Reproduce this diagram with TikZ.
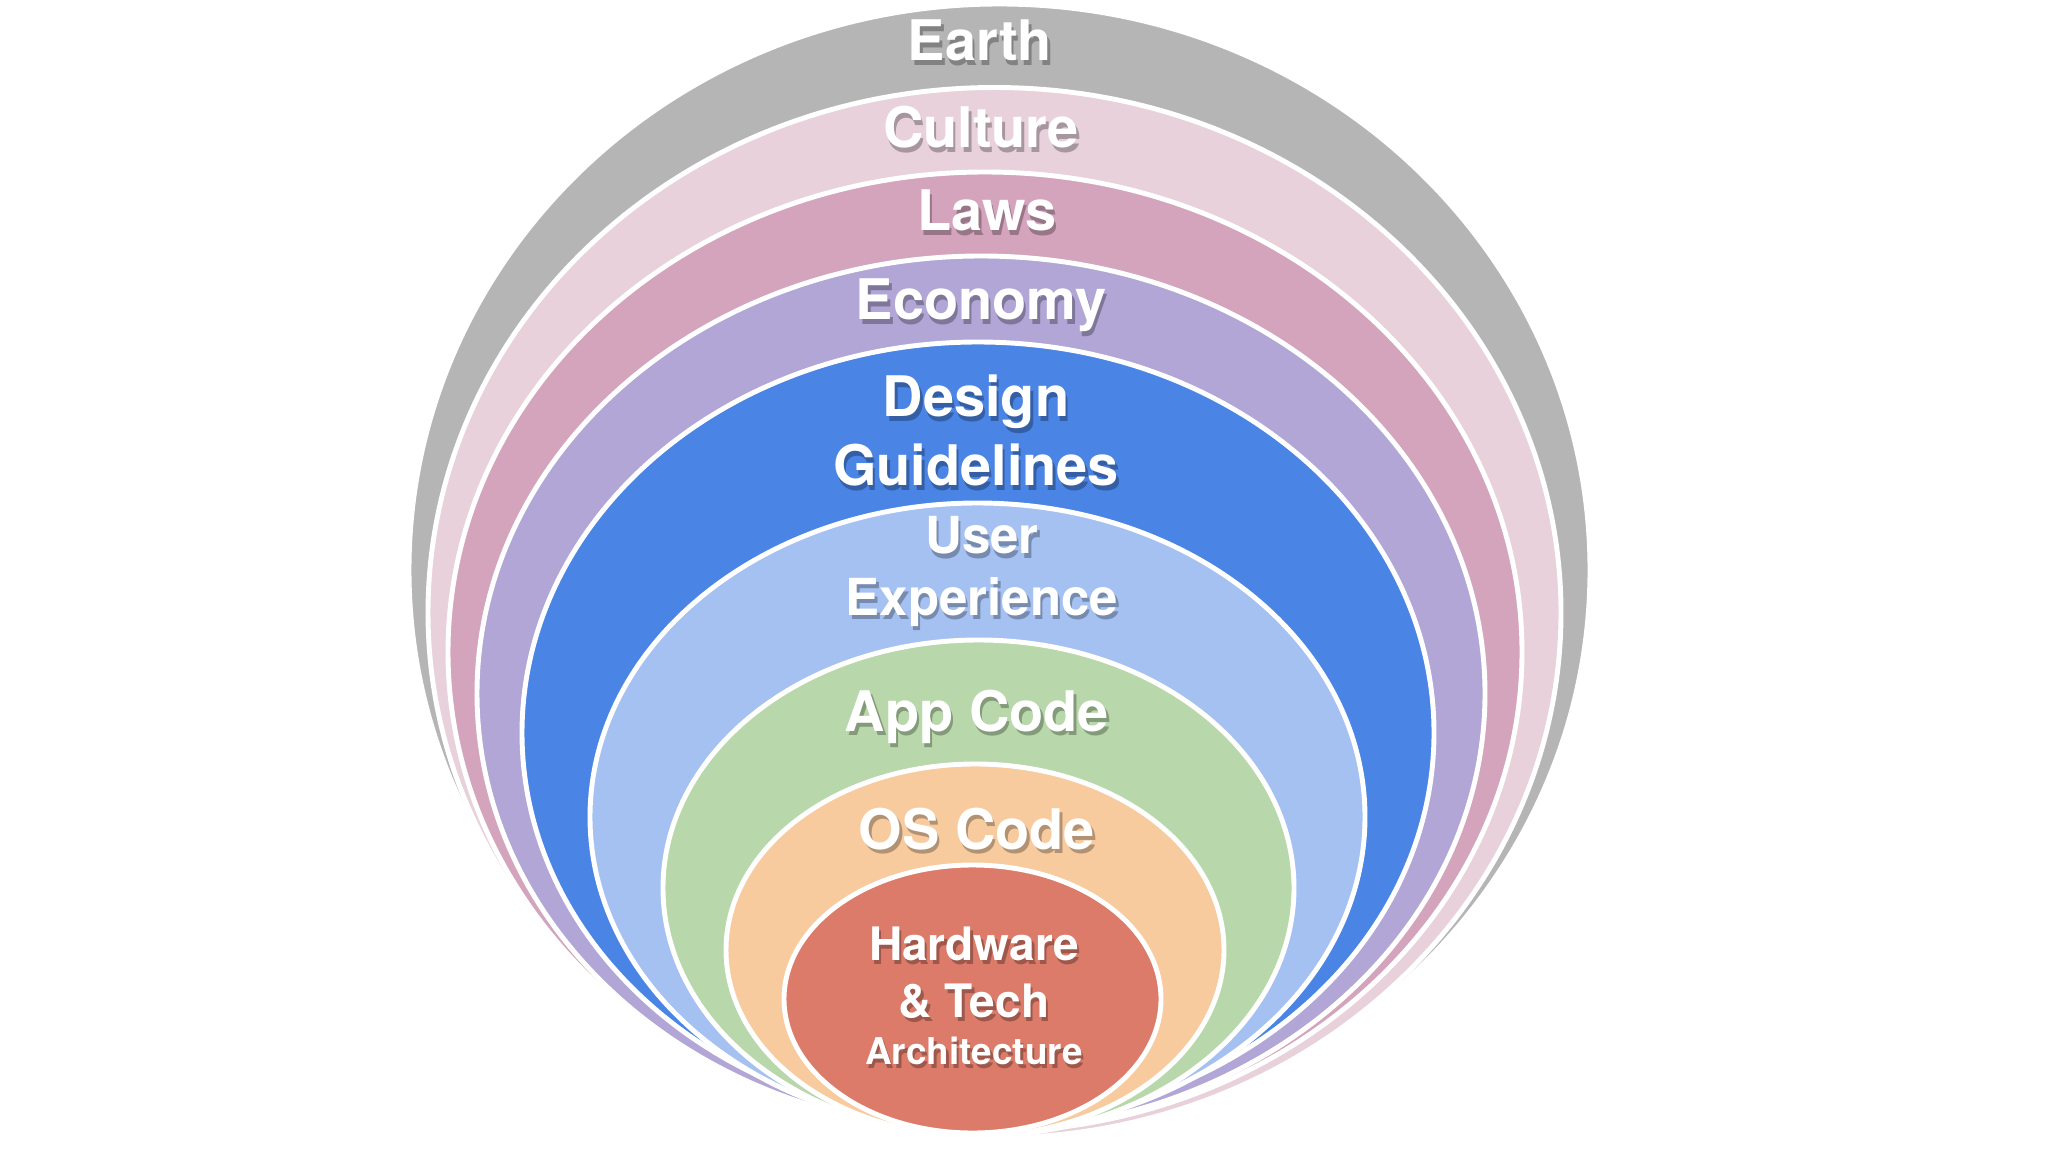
\documentclass[tikz,border=0pt]{standalone}
\usepackage{fontspec}
\setmainfont{TeX Gyre Heros}
\usepackage{tikz}

\definecolor{earthgray}{RGB}{181,181,181}
\definecolor{culturepink}{RGB}{232,209,219}
\definecolor{lawsmauve}{RGB}{212,164,188}
\definecolor{economylilac}{RGB}{177,166,214}
\definecolor{designblue}{RGB}{74,132,228}
\definecolor{uxblue}{RGB}{165,193,242}
\definecolor{appgreen}{RGB}{184,215,170}
\definecolor{osorange}{RGB}{248,203,158}
\definecolor{hwred}{RGB}{220,123,105}

\tikzset{
    ring/.style={draw=white, line width=1.4pt},
    lbl/.style={text=white, anchor=base, inner sep=0pt, font=\bfseries\fontsize{15.9}{18}\selectfont},
}

% label with a soft dark shadow under it
\newcommand{\ringlabel}[4]{%
    \node[lbl, #3, text=black, opacity=0.28] at ([xshift=0.7pt,yshift=-1.2pt]#2) {#4};
    \node[lbl, #3] (#1) at (#2) {#4};
}

\begin{document}
\begin{tikzpicture}[x=0.01cm, y=-0.01cm]
    \useasboundingbox (0,0) rectangle (2048,1152);

    % Define centres of the layers
    \coordinate (earth) at (999.5,570);
    \coordinate (culture) at (994.5,612.75);
    \coordinate (laws) at (985,652);
    \coordinate (economy) at (981,693.5);
    \coordinate (design) at (978,733);
    \coordinate (ux) at (977.5,817);
    \coordinate (app) at (978.5,888);
    \coordinate (os) at (975,950);
    \coordinate (hw) at (972.5,999);

    % Draw the layers from the outside in
    \draw[ring, fill=earthgray] (earth) ellipse [x radius=590.5, y radius=566];
    \draw[ring, fill=culturepink] (culture) ellipse [x radius=566.5, y radius=525.25];
    \draw[ring, fill=lawsmauve] (laws) ellipse [x radius=537, y radius=480];
    \draw[ring, fill=economylilac] (economy) ellipse [x radius=504, y radius=437.5];
    \draw[ring, fill=designblue] (design) ellipse [x radius=456, y radius=391];
    \draw[ring, fill=uxblue] (ux) ellipse [x radius=387.5, y radius=314];
    \draw[ring, fill=appgreen] (app) ellipse [x radius=315.5, y radius=248];
    \draw[ring, fill=osorange] (os) ellipse [x radius=249, y radius=186];
    \draw[ring, fill=hwred] (hw) ellipse [x radius=188.5, y radius=134];

    % Labels
    \ringlabel{earthlbl}{980,61}{}{Earth}
    \ringlabel{culturelbl}{981,148}{}{Culture}
    \ringlabel{lawslbl}{987,231}{}{Laws}
    \ringlabel{economylbl}{981,320}{}{Economy}
    \ringlabel{designlbl}{976,417}{}{Design}
    \ringlabel{guidelbl}{976,486}{}{Guidelines}
    \ringlabel{userlbl}{982,554}{font=\bfseries\fontsize{14.5}{17}\selectfont}{User}
    \ringlabel{experlbl}{982,615}{font=\bfseries\fontsize{14.5}{17}\selectfont}{Experience}
    \ringlabel{applbl}{977,731}{}{App Code}
    \ringlabel{oslbl}{977,849}{}{OS Code}
    \ringlabel{hwlbl}{974,960}{font=\bfseries\fontsize{13.1}{15}\selectfont}{Hardware}
    \ringlabel{techlbl}{974,1017}{font=\bfseries\fontsize{13.1}{15}\selectfont}{\& Tech}
    \ringlabel{archlbl}{974,1064}{font=\bfseries\fontsize{10.5}{12}\selectfont}{Architecture}
\end{tikzpicture}
\end{document}
